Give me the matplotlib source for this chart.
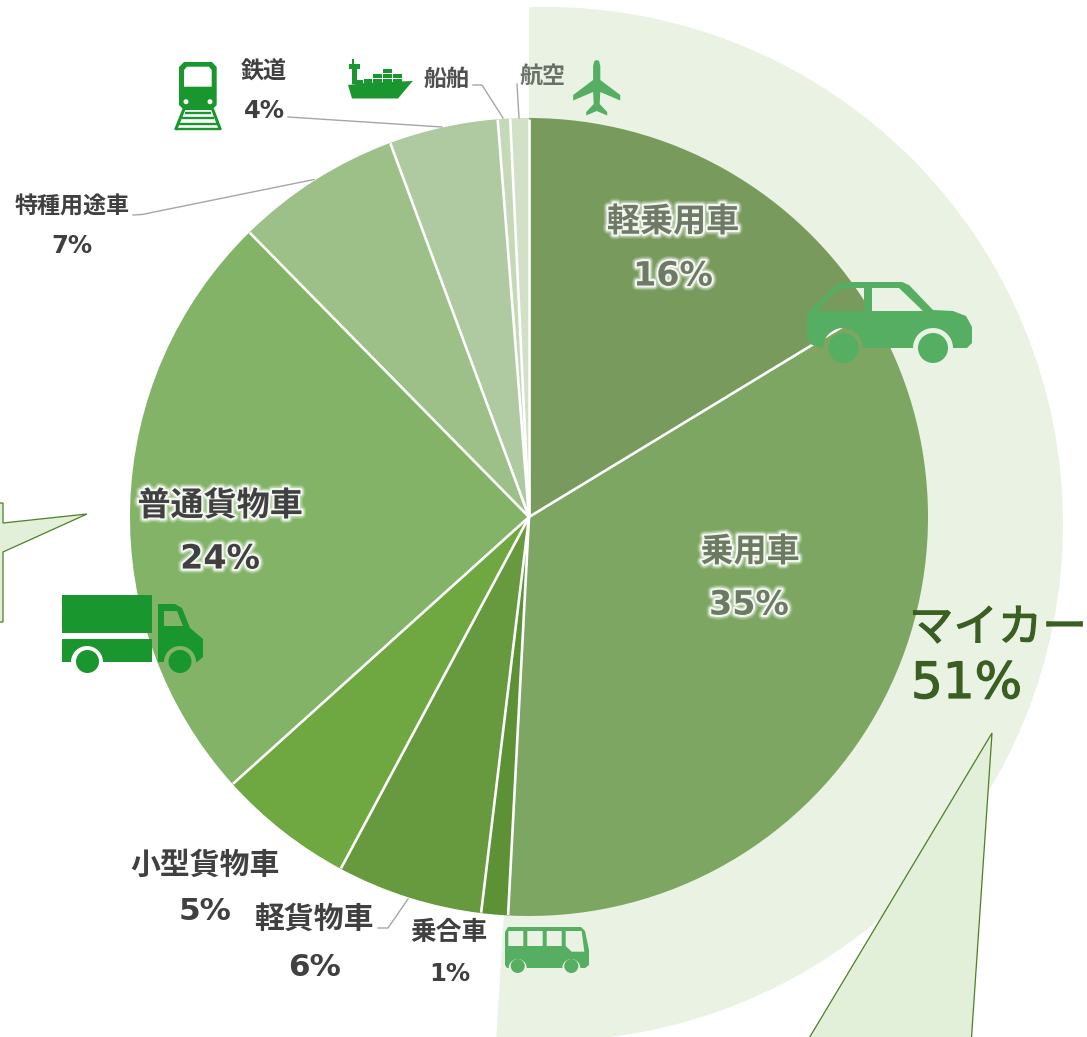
import numpy as np
import matplotlib
matplotlib.use("Agg")
import matplotlib.pyplot as plt
from matplotlib.patches import Wedge, Ellipse, Polygon, Circle, PathPatch, Rectangle
from matplotlib.path import Path
import matplotlib.patheffects as pe

W, H = 1087, 1037

# ---- data ----
categories = ["軽乗用車", "乗用車", "乗合車", "軽貨物車", "小型貨物車", "普通貨物車", "特種用途車", "鉄道", "船舶", "航空"]
shares = [16.3, 34.5, 1.08, 5.9, 5.5, 24.3, 6.7, 4.4, 0.5, 0.75]
percent_labels = ["16%", "35%", "1%", "6%", "5%", "24%", "7%", "4%", "", ""]
slice_colors = ["#789b5d", "#7ca661", "#5c9136", "#67993f", "#6fa741", "#82b366", "#9dbf88", "#afcaa0", "#c5d9b8", "#d2e0c8"]
mycar_label = "マイカー"
mycar_share = 51

JP = ["Noto Sans CJK JP", "DejaVu Sans"]
plt.rcParams["font.family"] = JP

fig = plt.figure(figsize=(W / 100, H / 100), dpi=100)
ax = fig.add_axes([0, 0, 1, 1])

def Y(py):
    return H - py

def pts(lst):
    return [(x, Y(y)) for x, y in lst]

CX, CY, R = 529, 517, 399
RING_CX, RING_CY, RING_R = 546, 524, 517
GREEN = "#55ae62"
DARK = "#1a962f"

# ---- outer ring, share of "my car" ----
ring = Ellipse((RING_CX, Y(RING_CY)), 2 * RING_R, 2 * RING_R, fc="#e9f2e3", ec="none", zorder=1)
ax.add_patch(ring)
clip = Wedge((CX, Y(CY)), 800, 90 - mycar_share / 100 * 360, 90, transform=ax.transData)
ring.set_clip_path(clip)

# ---- main pie ----
ax.pie(shares, colors=slice_colors, startangle=90, counterclock=False,
       center=(CX, Y(CY)), radius=R, frame=True,
       wedgeprops=dict(edgecolor="none", linewidth=0, zorder=2))

# white separators between the slices
fractions = np.cumsum([0] + shares[:-1]) / np.sum(shares)
for f in fractions:
    a = 2 * np.pi * f
    ax.plot([CX, CX + (R - 0.5) * np.sin(a)], [Y(CY), Y(CY) + (R - 0.5) * np.cos(a)],
            color="white", lw=1.9, zorder=2.5, solid_capstyle="butt")

ax.set_xlim(0, W)
ax.set_ylim(0, H)
ax.set_aspect("auto")
ax.axis("off")

# ---- callouts ----
CALL_F, CALL_E = "#e2efd9", "#4f7f28"
ax.add_patch(Polygon(pts([(-5, 503), (3, 503), (3, 523), (87, 514), (3, 552), (3, 622), (-5, 622)]),
                     closed=True, fc=CALL_F, ec=CALL_E, lw=0.9, zorder=3))
ax.add_patch(Polygon(pts([(992, 733), (970, 1060), (796, 1060)]),
                     closed=True, fc=CALL_F, ec=CALL_E, lw=0.9, zorder=3))

# ---- icon helpers ----
def arc(cx, cy, r, a0, a1, n=24):
    t = np.radians(np.linspace(a0, a1, n))
    return [(cx + r * np.cos(a), cy + r * np.sin(a)) for a in t]

def area(p):
    p = np.asarray(p)
    return 0.5 * np.sum(p[:, 0] * np.roll(p[:, 1], -1) - np.roll(p[:, 0], -1) * p[:, 1])

def shape(outer, holes=(), color=GREEN, z=5):
    outer = pts(outer)
    if area(outer) < 0:
        outer = outer[::-1]
    verts, codes = [], []
    def add(p):
        verts.extend(p + [p[0]])
        codes.extend([Path.MOVETO] + [Path.LINETO] * (len(p) - 1) + [Path.CLOSEPOLY])
    add(outer)
    for h in holes:
        h = pts(h)
        if area(h) > 0:
            h = h[::-1]
        add(h)
    ax.add_patch(PathPatch(Path(verts, codes), fc=color, ec="none", zorder=z))

def disc(x, y, r, color=GREEN, z=5):
    ax.add_patch(Circle((x, Y(y)), r, fc=color, ec="none", zorder=z))

def rect(x0, y0, x1, y1, color=DARK, z=5):
    ax.add_patch(Rectangle((x0, Y(y1)), x1 - x0, y1 - y0, fc=color, ec="none", zorder=z))

# car
car = [(807, 313), (835, 286), (842, 282), (902, 282), (909, 285), (933, 310), (953, 311), (966, 316), (972, 327),
       (972, 343), (967, 348), (953, 348)] + arc(933, 348, 20, 0, -180) + [(865, 348)] + arc(843, 348, 20, 0, -180) + \
      [(812, 345), (807, 338)]
shape(car, holes=[[(817, 311), (836, 291), (844, 288), (864, 288), (864, 311)],
                  [(872, 288), (899, 288), (923, 311), (872, 311)]])
disc(843.5, 348, 15)
disc(933, 348, 15)

# truck
shape([(62, 595), (152, 595), (152, 633), (62, 633)], color=DARK)
shape([(62, 639), (152, 639), (152, 662), (103, 662)] + arc(87, 662, 16, 0, -180) + [(62, 662)], color=DARK)
shape([(158, 604), (175, 604), (182, 608), (190, 628), (203, 639), (203, 657), (197, 662)] +
      arc(180, 662, 16, 0, -180) + [(158, 662)],
      holes=[[(164, 611), (177, 611), (183, 626), (164, 626)]], color=DARK)
disc(87.5, 661.5, 11.5, DARK)
disc(180, 661.5, 11.5, DARK)

# bus
bus = [(505, 932), (508, 927), (581, 927), (585, 931), (589, 950), (589, 965), (585, 968), (580, 968)] + \
      arc(571.3, 968, 9, 0, -180) + [(526.7, 968)] + arc(517.7, 968, 9, 0, -180) + [(507, 968), (505, 965)]
shape(bus, holes=[[(508.3, 931), (523.3, 931), (523.3, 946), (508.3, 946)],
                  [(527.3, 931), (542.7, 931), (542.7, 946), (527.3, 946)],
                  [(546.7, 931), (561.7, 931), (561.7, 946), (546.7, 946)],
                  [(565.7, 931), (581.7, 931), (584.3, 951.7), (571.7, 951.7), (565.7, 946)]])
disc(517.7, 966, 7)
disc(571.3, 966, 7)

# train
shape([(179, 67), (184, 62), (212, 62), (216.7, 67), (216.7, 105), (212, 110), (184, 110), (179, 105)],
      holes=[[(184, 70), (187, 66.7), (209, 66.7), (211.7, 70), (211.7, 86.7), (184, 86.7)],
             arc(186, 101.7, 2.5, 0, 360)[:-1], arc(210, 101.7, 2.5, 0, 360)[:-1]], color=DARK)
for a, b in [((184, 109), (175.5, 130)), ((212.5, 109), (220.5, 130))]:
    ax.plot([a[0], b[0]], [Y(a[1]), Y(b[1])], color=DARK, lw=2.2, zorder=5, solid_capstyle="butt")
for ty, hw in [(112.5, 13), (118, 16), (124, 19), (129, 21)]:
    ax.plot([198 - hw, 198 + hw], [Y(ty), Y(ty)], color=DARK, lw=1.7, zorder=5, solid_capstyle="butt")

# ship
shape([(348, 85), (365, 83), (412.7, 81), (398, 98.5), (352, 98.5)], color=DARK)
rect(352, 59, 354, 65)
rect(349.3, 64, 360, 69.3)
rect(351.7, 69, 357.3, 84)
rect(357, 80, 363, 84)
for x0, x1, top in [(364, 371.7, 79.3), (373.3, 381.7, 72.7), (383.3, 391.7, 67.3), (393.3, 401.7, 72.7)]:
    y = 82.7
    while y > top + 0.5:
        rect(x0, y - 3.8, x1, y)
        y -= 5

# plane
half = [(0, 60), (2.3, 61), (3.6, 66), (3.6, 80), (23.5, 95), (23.5, 100.5), (3.6, 92), (3, 104), (10.5, 112), (10.5, 115.5), (0, 111)]
px = 596.7
plane = [(px + x, y) for x, y in half] + [(px - x, y) for x, y in half[-2:0:-1]]
shape(plane)

# ---- labels ----
def glow():
    return [pe.Stroke(linewidth=7, foreground="white", alpha=0.18),
            pe.Stroke(linewidth=5, foreground="white", alpha=0.35),
            pe.Stroke(linewidth=3, foreground="white", alpha=0.85),
            pe.Normal()]

# label x, y, size, colour, glow per slice
label_pos = {
    "軽乗用車": (673, 222, 23.8, "#6e7a66", True),
    "乗用車": (750, 552, 23.8, "#6c7a62", True),
    "普通貨物車": (220, 506, 23.8, "#404040", True),
    "小型貨物車": (205, 865, 21.5, "#404040", False),
    "軽貨物車": (314, 919, 21.5, "#404040", False),
    "乗合車": (449, 932, 18.5, "#404040", False),
    "特種用途車": (72, 207, 16.6, "#404040", False),
    "鉄道": (264, 72, 16.6, "#404040", False),
    "船舶": (446, 79, 16.6, "#505050", False),
    "航空": (542, 76, 16.6, "#6a6f68", False),
}
pct_pos = {
    "軽乗用車": (673, 276, 24),
    "乗用車": (749, 605, 24),
    "普通貨物車": (220, 559, 24),
    "小型貨物車": (205, 912, 22.4),
    "軽貨物車": (315, 967, 22.4),
    "乗合車": (450, 974, 17.5),
    "特種用途車": (72, 246, 17.5),
    "鉄道": (264, 111, 17.5),
}
for name, pct in zip(categories, percent_labels):
    x, y, fs, col, g = label_pos[name]
    ax.text(x, Y(y), name, fontsize=fs, fontweight="bold", color=col, ha="center", va="center",
            family=JP, zorder=6, path_effects=glow() if g else None)
    if pct:
        x2, y2, fs2 = pct_pos[name]
        ax.text(x2, Y(y2), pct, fontsize=fs2, fontweight="bold", color=col, ha="center", va="center",
                family="DejaVu Sans", zorder=6, path_effects=glow() if g else None)

MY = "#3b5f22"
thick = [pe.Stroke(linewidth=0.9, foreground=MY), pe.Normal()]
ax.text(909, Y(628), mycar_label, fontsize=32, color=MY, ha="left", va="center", family=JP, zorder=6, path_effects=thick)
ax.text(911, Y(684), f"{mycar_share}%", fontsize=36, color=MY, ha="left", va="center", family="DejaVu Sans", zorder=6, path_effects=thick)

# ---- leader lines ----
leaders = [[(288, 117), (442, 127)],
           [(473, 85), (482, 85), (503, 118)],
           [(517, 84), (519, 118)],
           [(133, 215), (142, 214.5), (314, 179.5)],
           [(378, 928), (388, 928), (408, 899)]]
for l in leaders:
    xs, ys = zip(*pts(l))
    ax.plot(xs, ys, color="#a6a6a6", lw=1.0, zorder=4)

ax.set_xlim(0, W)
ax.set_ylim(0, H)
fig.savefig("out.png", dpi=100)
